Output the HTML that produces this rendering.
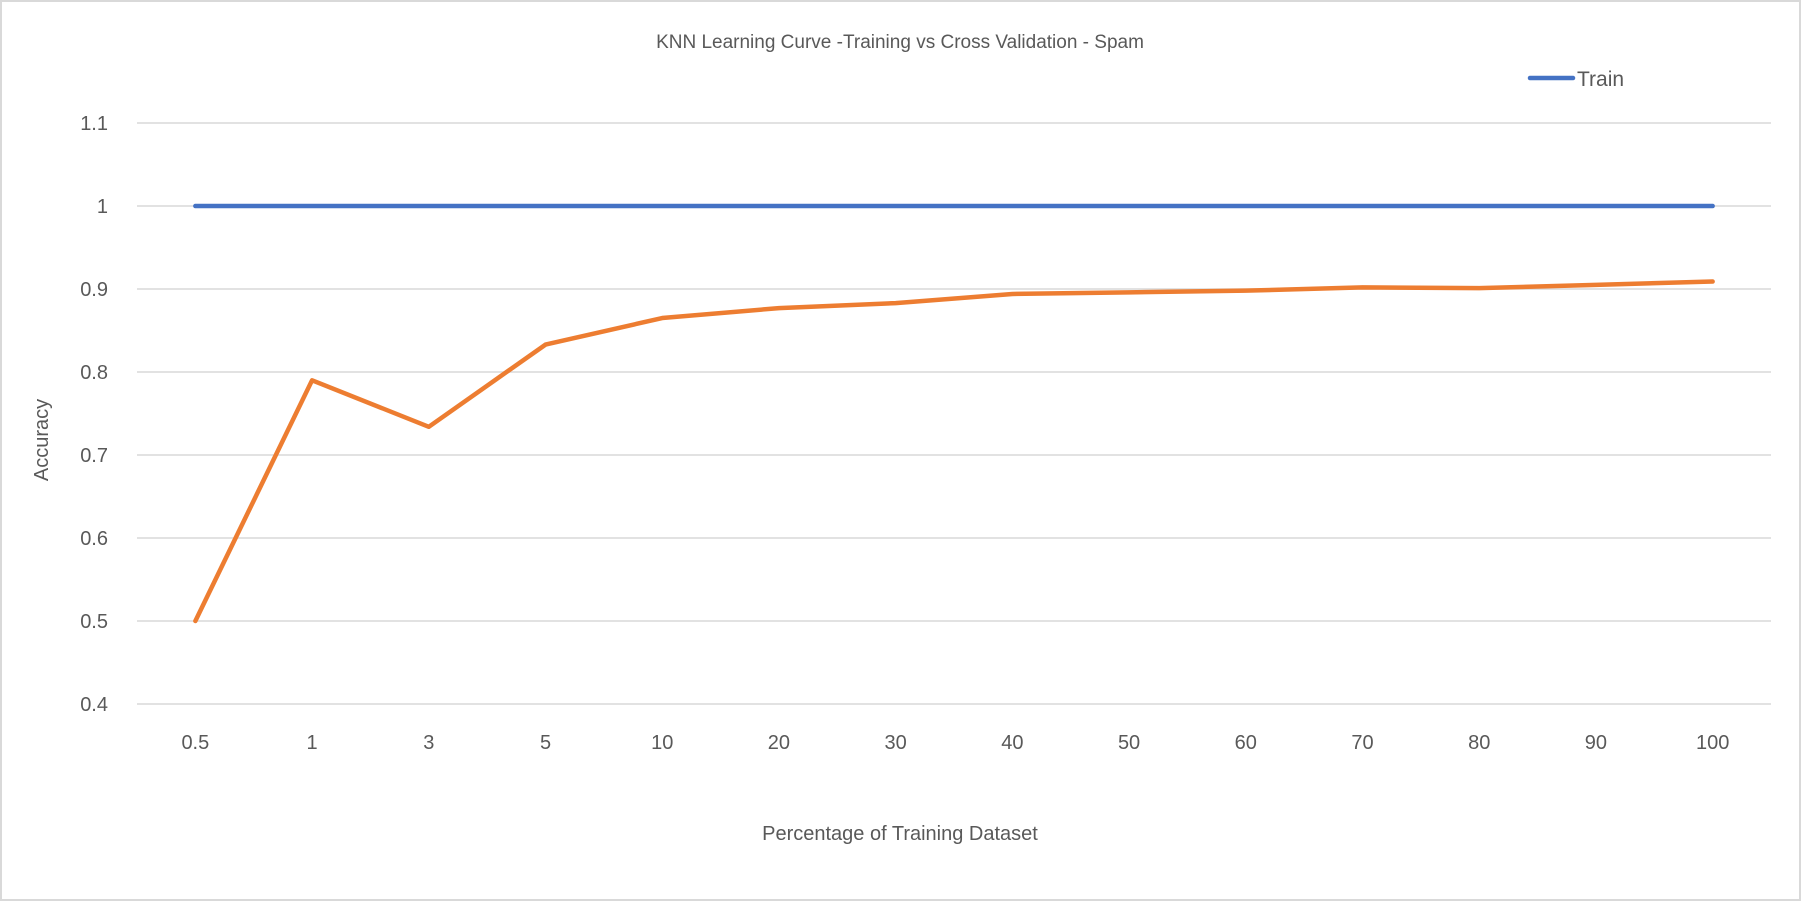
<!DOCTYPE html>
<html><head><meta charset="utf-8"><style>
html,body{margin:0;padding:0;background:#fff;}
svg{display:block;font-family:"Liberation Sans",sans-serif;}
</style></head><body>
<svg id="chart" width="1801" height="901">
<rect x="1" y="1" width="1799" height="899" fill="#fff" stroke="#d9d9d9" stroke-width="2"/>
<text x="900" y="48" text-anchor="middle" font-size="19" fill="#595959">KNN Learning Curve -Training vs Cross Validation - Spam</text>
<g>
<line x1="1530" y1="78" x2="1573" y2="78" stroke="#4472c4" stroke-width="4.5" stroke-linecap="round"/>
<text x="1577" y="86" font-size="21" fill="#595959">Train</text>
</g>
<g id="grid"></g><g id="yt"></g><g id="xt"></g><g id="series"></g>
<text x="900" y="840" text-anchor="middle" font-size="20" fill="#595959">Percentage of Training Dataset</text>
<text transform="translate(48,440) rotate(-90)" text-anchor="middle" font-size="20" fill="#595959">Accuracy</text>
</svg>
<script>
const categories=["0.5","1","3","5","10","20","30","40","50","60","70","80","90","100"];
const trainValues=[1,1,1,1,1,1,1,1,1,1,1,1,1,1];
const cvValues=[0.500,0.790,0.734,0.833,0.865,0.877,0.883,0.894,0.896,0.898,0.902,0.901,0.905,0.909];
const yTicks=[0.4,0.5,0.6,0.7,0.8,0.9,1,1.1];
const yTickLabels=["0.4","0.5","0.6","0.7","0.8","0.9","1","1.1"];
const NS="http://www.w3.org/2000/svg";
const L=137,R=1771,yMin=0.4,yMax=1.1,yTop=123,yBot=704;
const band=(R-L)/categories.length;
function xs(i){return L+band*(i+0.5);}
function ys(v){return yBot-(v-yMin)/(yMax-yMin)*(yBot-yTop);}
function mk(t,a){const e=document.createElementNS(NS,t);for(const k in a)e.setAttribute(k,a[k]);return e;}
const grid=document.getElementById('grid'),yt=document.getElementById('yt'),xt=document.getElementById('xt'),ser=document.getElementById('series');
yTicks.forEach((v,i)=>{
 const g=mk('line',{x1:L,x2:R,y1:ys(v),y2:ys(v),stroke:'#d9d9d9','stroke-width':1.5});
 
 
 grid.appendChild(g);
 const t=mk('text',{x:108,y:ys(v)+7,'text-anchor':'end','font-size':20,fill:'#595959'});
 t.textContent=yTickLabels[i];
 
 
 yt.appendChild(t);
});
categories.forEach((c,i)=>{
 const t=mk('text',{x:xs(i),y:749,'text-anchor':'middle','font-size':20,fill:'#595959'});
 t.textContent=c;
 
 
 xt.appendChild(t);
});
function line(vals,color,name){
 const p=mk('polyline',{points:vals.map((v,i)=>xs(i)+','+ys(v)).join(' '),fill:'none',stroke:color,'stroke-width':4.5,'stroke-linejoin':'round','stroke-linecap':'round'});
 
 
 ser.appendChild(p);
}
line(trainValues,'#4472c4','train-line');
line(cvValues,'#ed7d31','cross-validation-line');
</script>
</body></html>
